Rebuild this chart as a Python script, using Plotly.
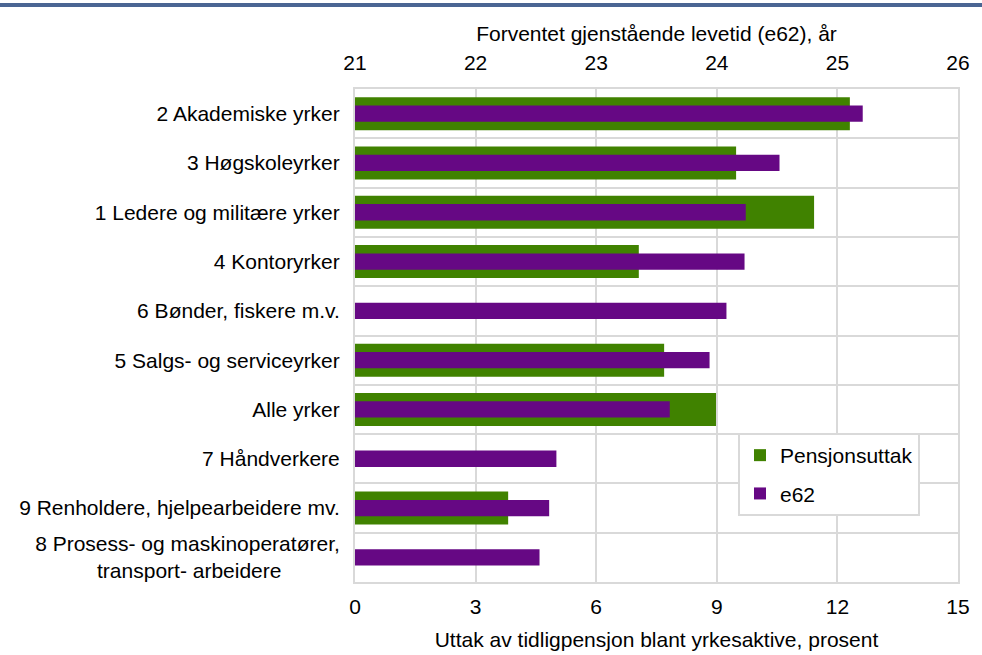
import plotly.graph_objects as go

categories = [
    "2 Akademiske yrker",
    "3 Høgskoleyrker",
    "1 Ledere og militære yrker",
    "4 Kontoryrker",
    "6 Bønder, fiskere m.v.",
    "5 Salgs- og serviceyrker",
    "Alle yrker",
    "7 Håndverkere",
    "9 Renholdere, hjelpearbeidere mv.",
    "8 Prosess- og maskinoperatører,<br>transport- arbeidere" + "\u00a0" * 10,
]
pensjonsuttak = [12.31, 9.48, 11.42, 7.06, None, 7.69, 8.98, None, 3.81, None]
e62 = [25.21, 24.52, 24.24, 24.23, 24.08, 23.94, 23.61, 22.67, 22.61, 22.53]

bottom_ticks = [0, 3, 6, 9, 12, 15]
top_ticks = [21, 22, 23, 24, 25, 26]

GREEN = "#408200"
PURPLE = "#660884"
GRID = "#d9d9d9"
FONT = "Liberation Sans, Arial, sans-serif"
FS = 21

fig = go.Figure()
fig.add_trace(go.Bar(
    y=categories, x=pensjonsuttak, orientation="h", name="Pensjonsuttak",
    marker=dict(color=GREEN, line=dict(width=0)), width=0.67,
    xaxis="x", yaxis="y", legendgroup="a",
))
fig.add_trace(go.Bar(
    y=categories, x=e62, orientation="h", name="e62",
    marker=dict(color=PURPLE, line=dict(width=0)), width=0.33,
    xaxis="x2", yaxis="y", legendgroup="b",
))

W, H = 982, 655
L, R, T, B = 355, 24, 89, 73
pw, ph = W - L - R, H - T - B

fig.update_layout(
    width=W, height=H,
    margin=dict(l=L, r=R, t=T, b=B, autoexpand=False),
    paper_bgcolor="white", plot_bgcolor="white",
    barmode="overlay",
    font=dict(family=FONT, size=FS, color="#000000"),
    showlegend=True,
    legend=dict(
        x=(738 - L) / pw, y=(H - B - 433) / ph, xanchor="left", yanchor="top",
        bgcolor="white", bordercolor=GRID, borderwidth=2,
        font=dict(size=FS), tracegroupgap=8, traceorder="grouped",
    ),
    xaxis=dict(
        range=[0, 15], tickvals=bottom_ticks, side="bottom",
        showgrid=True, gridcolor=GRID, gridwidth=2,
        showline=True, linecolor=GRID, linewidth=2, mirror=True,
        zeroline=False, ticks="", ticklabelstandoff=5,
        tickfont=dict(size=FS),
        title=dict(text="Uttak av tidligpensjon blant yrkesaktive, prosent",
                   standoff=15, font=dict(size=FS)),
        automargin=False,
    ),
    xaxis2=dict(
        range=[21, 26], tickvals=top_ticks, side="top", overlaying="x",
        showgrid=False, zeroline=False, ticks="", ticklabelstandoff=14,
        tickfont=dict(size=FS),
        title=dict(text="Forventet gjenstående levetid (e62), år",
                   standoff=3, font=dict(size=FS)),
        automargin=False,
    ),
    yaxis=dict(
        categoryorder="array", categoryarray=categories, autorange="reversed",
        tickson="boundaries", showgrid=True, gridcolor=GRID, gridwidth=2,
        showline=True, linecolor=GRID, linewidth=2, mirror=True,
        ticks="", ticklabelstandoff=9, zeroline=False, automargin=False,
        tickfont=dict(size=FS),
    ),
    shapes=[dict(
        type="line", xref="paper", yref="paper",
        x0=-L / pw, x1=1 + R / pw, y0=(H - B - 5) / ph, y1=(H - B - 5) / ph,
        line=dict(color="#4a6593", width=4),
    )],
)

fig.write_html("out.html", config={"displayModeBar": False},
               post_script="document.body.style.margin='0';")
